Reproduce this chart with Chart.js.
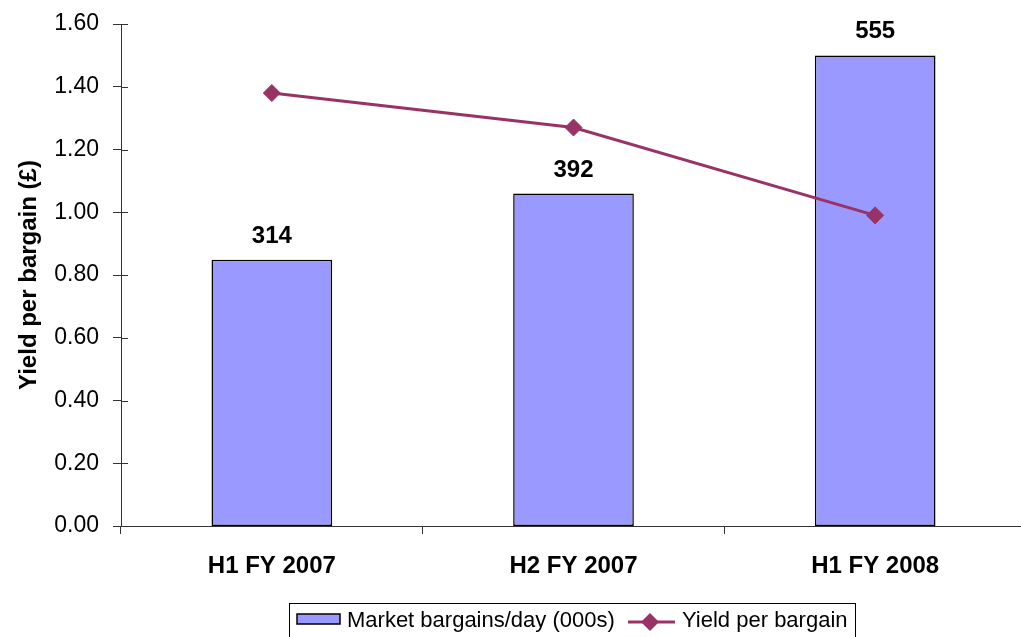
<!DOCTYPE html>
<html>
<head>
<meta charset="utf-8">
<script src="https://cdn.jsdelivr.net/npm/chart.js@4.4.1/dist/chart.umd.min.js"></script>
<style>
    html, body { margin: 0; padding: 0; background: #fff; }
    #wrap { width: 1021px; height: 637px; overflow: hidden; position: relative; }
    #wrap canvas { position: absolute; left: 0; top: 0; }
</style>
</head>
<body>
<div id="wrap">
    <canvas id="chart" width="1026" height="637" style="width:1026px;height:637px"></canvas>
</div>
<script>
// data
const categories = ['H1 FY 2007', 'H2 FY 2007', 'H1 FY 2008'];
const bargainsPerDay = [314, 392, 555];       // 000s, hidden secondary axis
const yieldPerBargain = [1.38, 1.27, 0.99];   // £
const yTickMax = 1.6;
const yTickStep = 0.2;
const bargainAxisMax = 592;

const FONT = "'Liberation Sans', Arial, sans-serif";
const AXIS_COLOR = '#333333';
const BAR_COLOR = '#9999FF';
const LINE_COLOR = '#993366';

// value labels above the bars
const barLabels = {
    id: 'barLabels',
    afterDatasetsDraw(chart) {
        const ctx = chart.ctx;
        const meta = chart.getDatasetMeta(1);
        ctx.save();
        ctx.font = 'bold 24px ' + FONT;
        ctx.fillStyle = '#000';
        ctx.textAlign = 'center';
        ctx.textBaseline = 'alphabetic';
        meta.data.forEach((bar, i) => {
            ctx.fillText(String(chart.data.datasets[1].data[i]), bar.x, bar.y - 17);
        });
        ctx.restore();
    }
};

// Excel style: y ticks cross the axis, plus the boxed legend at the bottom
const extras = {
    id: 'extras',
    afterDraw(chart) {
        const ctx = chart.ctx;
        const yScale = chart.scales.y;
        const left = chart.chartArea.left;
        ctx.save();
        ctx.strokeStyle = AXIS_COLOR;
        ctx.lineWidth = 1;
        yScale.ticks.forEach((t, i) => {
            const py = Math.round(yScale.getPixelForTick(i)) + 0.5;
            ctx.beginPath();
            ctx.moveTo(left, py);
            ctx.lineTo(left + 7, py);
            ctx.stroke();
        });

        // legend
        const ds = chart.data.datasets;
        ctx.strokeStyle = '#000';
        ctx.lineWidth = 1;
        ctx.strokeRect(289.5, 603.5, 566, 50);

        ctx.fillStyle = BAR_COLOR;
        ctx.fillRect(297, 614, 43, 10);
        ctx.lineWidth = 1.5;
        ctx.strokeRect(297, 614, 43, 10);

        ctx.font = '22px ' + FONT;
        ctx.fillStyle = '#000';
        ctx.textBaseline = 'middle';
        ctx.textAlign = 'left';
        ctx.fillText(ds[1].label, 347, 621);

        ctx.strokeStyle = LINE_COLOR;
        ctx.lineWidth = 3;
        ctx.beginPath();
        ctx.moveTo(628, 622);
        ctx.lineTo(675, 622);
        ctx.stroke();
        ctx.fillStyle = LINE_COLOR;
        ctx.beginPath();
        ctx.moveTo(650, 613);
        ctx.lineTo(659, 622);
        ctx.lineTo(650, 631);
        ctx.lineTo(641, 622);
        ctx.closePath();
        ctx.fill();

        ctx.fillStyle = '#000';
        ctx.fillText(ds[0].label, 682, 621);
        ctx.restore();
    }
};

const ctx = document.getElementById('chart').getContext('2d');
new Chart(ctx, {
    data: {
        labels: categories,
        datasets: [
            {
                type: 'line',
                label: 'Yield per bargain',
                data: yieldPerBargain,
                yAxisID: 'y',
                order: 0,
                borderColor: LINE_COLOR,
                borderWidth: 3,
                pointStyle: 'rectRot',
                pointRadius: 8.5,
                pointBackgroundColor: LINE_COLOR,
                pointBorderColor: LINE_COLOR,
                pointBorderWidth: 1,
                tension: 0
            },
            {
                type: 'bar',
                label: 'Market bargains/day (000s)',
                data: bargainsPerDay,
                yAxisID: 'y1',
                order: 1,
                backgroundColor: BAR_COLOR,
                borderColor: '#000',
                borderWidth: 1.5,
                borderSkipped: false,
                categoryPercentage: 1,
                barPercentage: 0.4
            }
        ]
    },
    options: {
        responsive: false,
        animation: false,
        layout: { autoPadding: false, padding: { top: 24, left: 0, right: 0, bottom: 0 } },
        plugins: {
            legend: { display: false },
            tooltip: { enabled: false }
        },
        scales: {
            x: {
                afterFit(scale) { scale.height = 111; },
                grid: {
                    offset: true,
                    drawOnChartArea: false,
                    drawTicks: true,
                    tickLength: 8,
                    color: AXIS_COLOR
                },
                border: { display: true, color: AXIS_COLOR, width: 1 },
                ticks: {
                    color: '#000',
                    padding: 18,
                    font: { family: FONT, size: 24, weight: 'bold' }
                }
            },
            y: {
                position: 'left',
                min: 0,
                max: yTickMax,
                afterFit(scale) {
                    scale.width = 121;
                    scale.paddingTop = 0;
                    scale.paddingBottom = 0;
                },
                grid: {
                    drawOnChartArea: false,
                    drawTicks: true,
                    tickLength: 8,
                    color: AXIS_COLOR
                },
                border: { display: true, color: AXIS_COLOR, width: 1 },
                ticks: {
                    stepSize: yTickStep,
                    color: '#000',
                    padding: 14,
                    font: { family: FONT, size: 23 },
                    callback: v => Number(v).toFixed(2)
                },
                title: {
                    display: true,
                    text: 'Yield per bargain (£)',
                    color: '#000',
                    padding: { top: 15, bottom: 0 },
                    font: { family: FONT, size: 24, weight: 'bold' }
                }
            },
            y1: {
                display: false,
                min: 0,
                max: bargainAxisMax
            }
        }
    },
    plugins: [barLabels, extras]
});
</script>
</body>
</html>
